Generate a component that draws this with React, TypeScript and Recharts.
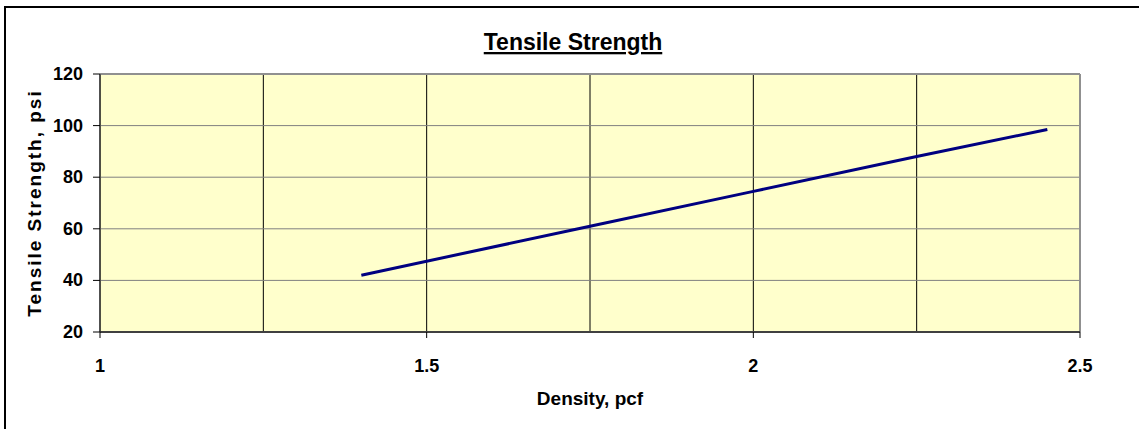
import { LineChart, Line, XAxis, YAxis, CartesianGrid, ReferenceLine } from "recharts";

const density = [1.4, 1.75, 2.0, 2.25, 2.45];
const strength = [42, 61, 74.5, 88, 98.5];
const xTicks = [1, 1.25, 1.5, 1.75, 2, 2.25, 2.5];
const yTicks = [20, 40, 60, 80, 100, 120];

const data = density.map((d, i) => ({ density: d, strength: strength[i] }));

const font = "'Liberation Sans', Arial, sans-serif";

function XTick({ x, y, payload }: any) {
  const v = payload.value;
  if (Math.abs(v * 2 - Math.round(v * 2)) > 1e-6) return null;
  return (
    <g>
      <line x1={x} x2={x} y1={y} y2={y + 6} stroke="#000" />
      <text x={x} y={y + 40} textAnchor="middle" fontFamily={font} fontWeight="bold" fontSize={18} fill="#000">
        {v}
      </text>
    </g>
  );
}

function YTick({ x, y, payload }: any) {
  return (
    <g>
      <line x1={x - 7} x2={x} y1={y} y2={y} stroke="#000" />
      <text x={x - 17} y={y + 6} textAnchor="end" fontFamily={font} fontWeight="bold" fontSize={18} fill="#000">
        {payload.value}
      </text>
    </g>
  );
}

export default function App() {
  return (
    <div style={{ position: "fixed", left: 0, top: 0, width: 1139, height: 429, background: "#fff", overflow: "hidden" }}>
      <div style={{ position: "absolute", left: 4, top: 6, width: 1200, height: 500, border: "2px solid #000", boxSizing: "border-box" }} />
      <div style={{ position: "absolute", left: 0, top: 0 }}>
        <LineChart width={1139} height={429} data={data} margin={{ top: 74, right: 59, bottom: 0, left: 0 }}>
          <CartesianGrid horizontal={false} vertical={true} stroke="#000" fill="#FFFFCC" fillOpacity={1} />
          <CartesianGrid horizontal={true} vertical={false} stroke="#808080" />
          <XAxis
            type="number"
            dataKey="density"
            domain={[1, 2.5]}
            ticks={xTicks}
            interval={0}
            height={97}
            tickSize={0}
            tickMargin={0}
            tickLine={false}
            axisLine={{ stroke: "#404040", strokeWidth: 2 }}
            tick={<XTick />}
            label={{ value: "Density, pcf", position: "insideBottom", offset: 24, fontFamily: font, fontWeight: "bold", fontSize: 19, fill: "#000" }}
          />
          <YAxis
            type="number"
            domain={[20, 120]}
            ticks={yTicks}
            interval={0}
            width={100}
            tickSize={0}
            tickMargin={0}
            tickLine={false}
            axisLine={{ stroke: "#202020", strokeWidth: 1 }}
            tick={<YTick />}
          />
          <ReferenceLine y={120} stroke="#909090" strokeWidth={2} />
          <ReferenceLine x={2.5} stroke="#909090" strokeWidth={2} />
          <Line dataKey="strength" stroke="#000080" strokeWidth={3} dot={false} isAnimationActive={false} />
          <text x={573} y={50} textAnchor="middle" fontFamily={font} fontWeight="bold" fontSize={23} fill="#000" textDecoration="underline">
            Tensile Strength
          </text>
          <text
            x={0}
            y={0}
            transform="translate(41,203) rotate(-90)"
            textAnchor="middle"
            fontFamily={font}
            fontWeight="bold"
            fontSize={19}
            letterSpacing={2}
            fill="#000"
          >
            Tensile Strength, psi
          </text>
        </LineChart>
      </div>
    </div>
  );
}
